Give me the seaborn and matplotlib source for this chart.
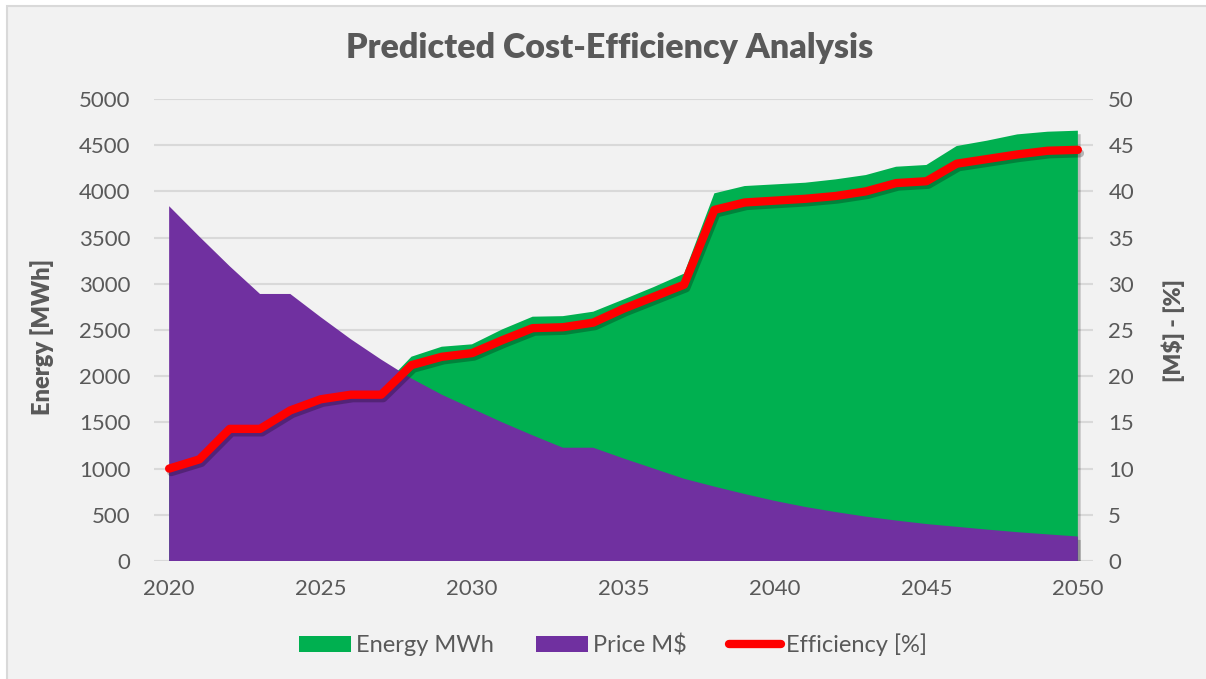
import numpy as np
import pandas as pd
import seaborn as sns
import matplotlib
matplotlib.use("Agg")
import matplotlib.pyplot as plt
import matplotlib.patheffects as pe
from matplotlib.patches import Patch, Rectangle
from matplotlib.lines import Line2D

# ---- data -------------------------------------------------------------
years = list(range(2020, 2051))

energy_mwh = [1040, 1145, 1490, 1490, 1700, 1820, 1870, 1870,
              2211, 2319, 2345, 2507, 2644, 2650, 2698, 2830, 2965,
              3110, 3979, 4058, 4076, 4094, 4130, 4177, 4267, 4286,
              4491, 4549, 4617, 4646, 4657]

price_musd = [38.4, 35.1, 31.9, 28.9, 28.9, 26.4, 24.0, 21.8, 19.75,
              18.0, 16.5, 15.0, 13.6, 12.26, 12.26, 11.1, 10.0, 8.9,
              8.05, 7.25, 6.5, 5.85, 5.3, 4.8, 4.38, 4.0, 3.7, 3.4,
              3.12, 2.88, 2.65]

efficiency_pct = [10.0, 11.0, 14.3, 14.3, 16.3, 17.5, 18.0, 18.0, 21.2,
                  22.1, 22.5, 23.9, 25.2, 25.3, 25.8, 27.3, 28.6, 29.9,
                  38.0, 38.8, 39.0, 39.2, 39.5, 40.0, 40.9, 41.1, 43.0,
                  43.5, 44.0, 44.4, 44.5]

title = "Predicted Cost-Efficiency Analysis"
left_label = "Energy [MWh]"
right_label = "[M$] - [%]"
series_names = ["Energy MWh", "Price M$", "Efficiency [%]"]

df = pd.DataFrame({"year": years, "energy": energy_mwh,
                   "price": price_musd, "efficiency": efficiency_pct})

# ---- style --------------------------------------------------------------
GREEN = "#00b050"
PURPLE = "#7030a0"
RED = "#ff0000"
TEXT = "#595959"
GRID = "#d9d9d9"
BG = "#f2f2f2"

sns.set_theme(style="white")
plt.rcParams["font.family"] = ["Lato", "DejaVu Sans"]

fig = plt.figure(figsize=(12.06, 6.79), dpi=100, facecolor="white")
# chart panel with a thin border on its left and top edges
fig.patches.append(Rectangle((7 / 1206, -0.05), 1.1, 1 - 6 / 679 + 0.05,
                             transform=fig.transFigure, facecolor=BG,
                             edgecolor=GRID, linewidth=1.5, zorder=-10))

ax = fig.add_axes([154 / 1206, 1 - 561 / 679, (1093 - 154) / 1206,
                   (561 - 99) / 679])
ax.set_facecolor("none")
ax2 = ax.twinx()
ax2.set_facecolor("none")

shadow_patch = [pe.SimplePatchShadow(offset=(2, -2.5), shadow_rgbFace="black",
                                     alpha=0.22), pe.Normal()]
shadow_line = [pe.SimpleLineShadow(offset=(1.5, -2.5), shadow_color="black",
                                   alpha=0.25), pe.Normal()]

# energy area on the left axis
ax.fill_between(df["year"], 0, df["energy"], color=GREEN, linewidth=0,
                zorder=2, path_effects=shadow_patch)

# price area and efficiency line on the right axis
ax2.fill_between(df["year"], 0, df["price"], color=PURPLE, linewidth=0,
                 zorder=2, path_effects=shadow_patch)
sns.lineplot(data=df, x="year", y="efficiency", ax=ax2, color=RED,
             linewidth=6, zorder=3, legend=False,
             path_effects=shadow_line)
for ln in ax2.lines:
    ln.set_solid_capstyle("round")
    ln.set_solid_joinstyle("round")

# axes, ticks, grid
ax.set_xlim(2019.5, 2050.5)
ax.set_ylim(0, 5000)
ax2.set_ylim(0, 50)
ax.set_yticks(np.arange(0, 5001, 500))
ax2.set_yticks(np.arange(0, 51, 5))
ax.set_xticks(np.arange(2020, 2051, 5))
ax.grid(axis="y", color=GRID, linewidth=1.5, zorder=0)
ax.grid(axis="x", visible=False)
ax2.grid(False)
for a in (ax, ax2):
    for s in a.spines.values():
        s.set_visible(False)

ax.tick_params(axis="y", length=0, pad=17, labelsize=16, labelcolor=TEXT)
ax.tick_params(axis="x", length=0, pad=13, labelsize=16, labelcolor=TEXT)
ax2.tick_params(axis="y", length=0, pad=11, labelsize=16, labelcolor=TEXT)
ax.set_xlabel("")
ax2.set_xlabel("")

ax.set_ylabel(left_label, fontsize=17, fontweight="heavy", color=TEXT)
ax2.set_ylabel(right_label, fontsize=16.5, fontweight="heavy", color=TEXT,
               rotation=90)
ax.yaxis.set_label_coords(42 / 1206, 1 - 337 / 679, transform=fig.transFigure)
ax2.yaxis.set_label_coords(1173 / 1206, 1 - 330 / 679,
                           transform=fig.transFigure)
ax.yaxis.label.set_va("center")
ax2.yaxis.label.set_va("center")

fig.text(610 / 1206, 1 - 48 / 679, title, ha="center", va="center",
         fontsize=24.5, fontweight="heavy", color=TEXT)

handles = [Patch(facecolor=GREEN, edgecolor="none"),
           Patch(facecolor=PURPLE, edgecolor="none"),
           Line2D([0], [0], color=RED, linewidth=6, solid_capstyle="round")]
leg = fig.legend(handles, series_names, loc="center",
                 bbox_to_anchor=(613 / 1206, 1 - 645 / 679), ncol=3,
                 frameon=False, fontsize=17, handlelength=2.2,
                 handleheight=0.72, handletextpad=0.25, columnspacing=1.75)
for t in leg.get_texts():
    t.set_color(TEXT)

fig.savefig("out.png", dpi=100, facecolor=fig.get_facecolor())
